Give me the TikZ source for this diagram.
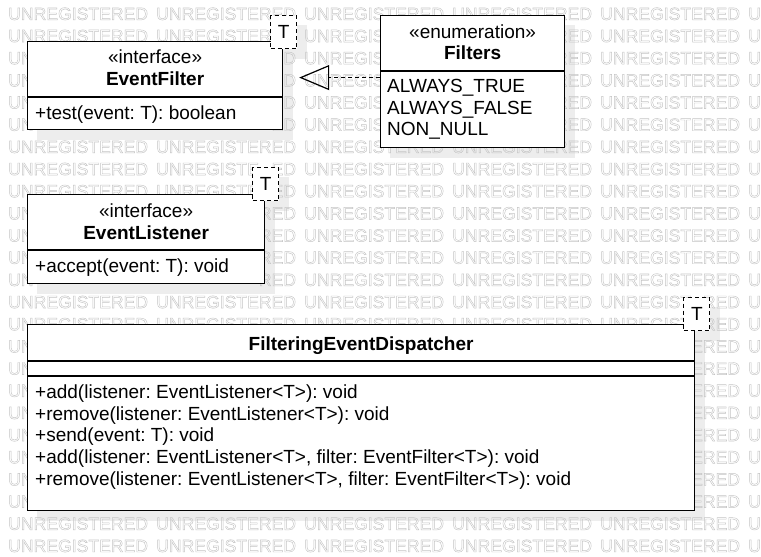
\documentclass[tikz,border=0pt]{standalone}
\usepackage{fontspec}
\setmainfont{Liberation Sans}
\usetikzlibrary{arrows.meta,calc}
\frenchspacing
\definecolor{shadowgray}{HTML}{EDEDED}
\definecolor{wmgray}{HTML}{C4C4C4}
\pgfdeclarelayer{bglayer}
\pgfdeclarelayer{shadowlayer}
\pgfdeclarelayer{wmlayer}
\pgfsetlayers{bglayer,shadowlayer,wmlayer,main}
\newcommand\outlinedtext[1]{\special{pdf:literal direct 1 Tr 0.45 w}#1\special{pdf:literal direct 0 Tr}}
\tikzset{
  umlbox/.style={draw=black, fill=white, line width=1.2pt, inner sep=0pt, anchor=north west},
  tbox/.style={draw=black, fill=white, dash pattern=on 4pt off 3pt, line width=1.2pt,
    minimum width=26pt, minimum height=33pt, inner sep=0pt, anchor=north west,
    font=\fontsize{19}{22}\selectfont},
  divider/.style={line width=1.2pt},
  txt/.style={inner sep=0pt, font=\fontsize{19}{22}\selectfont},
  wm/.style={inner sep=0pt, anchor=base west, text=wmgray, font=\fontsize{17.6}{20}\selectfont},
  shadowfill/.style={fill=shadowgray, draw=none},
  realizes/.style={dash pattern=on 4pt off 3pt, line width=1.2pt,
    -{Triangle[open, length=30pt, width=25pt, line width=1.2pt]}},
}
\begin{document}
\begin{tikzpicture}[x=1pt,y=-1pt]
\begin{pgfonlayer}{bglayer}
\fill[white] (0,0) rectangle (761,557);
\end{pgfonlayer}
\useasboundingbox (0,0) rectangle (761,557);

% watermark (only the letters that are not hidden behind a box)
\begin{pgfonlayer}{wmlayer}
\foreach \r in {0,...,24}{
  \pgfmathsetmacro\yc{13.6+22.17*\r}
  \pgfmathsetmacro\ya{\yc-6.3}
  \pgfmathsetmacro\yb{\yc+6.3}
  \foreach \c in {0,...,5}{
    \foreach \L/\o/\w [count=\k] in {U/0/12.707, N/12.707/12.707, R/25.414/12.707,
        E/38.122/11.739, G/49.861/13.693, I/63.554/4.893, S/68.447/11.739,
        T/80.186/10.754, E/90.940/11.739, R/102.679/12.707, E/115.386/11.739, D/127.125/12.707}{
      \pgfmathsetmacro\xa{8+148*\c+\o}
      \pgfmathsetmacro\xb{\xa+\w}
      \pgfmathtruncatemacro\hid{
        (\xa>26 && \xb<283 && min(\yb,129)-max(\ya,41)>7.5) ||
        (\xa>268 && \xb<296 && min(\yb,48)-max(\ya,15)>7.5) ||
        (\xa>379 && \xb<565 && min(\yb,147)-max(\ya,15)>7.5) ||
        (\xa>26 && \xb<265 && min(\yb,283)-max(\ya,194)>7.5) ||
        (\xa>251 && \xb<279 && min(\yb,200)-max(\ya,167)>7.5) ||
        (\xa>26 && \xb<695 && min(\yb,510)-max(\ya,324)>7.5) ||
        (\xa>682 && \xb<710 && min(\yb,330)-max(\ya,297)>7.5) ||
        (\xa>760)}
      \ifnum\hid=0
        \node[wm] (wm-\r-\c-\k) at (\xa,\yb) {\outlinedtext{\L}};
      \fi
    }
  }
}
\end{pgfonlayer}

% boxes
\node[umlbox, minimum width=255pt, minimum height=88pt] (evfilter) at (27,41) {};
\node[umlbox, minimum width=184pt, minimum height=132pt] (filters) at (380,15) {};
\node[umlbox, minimum width=237pt, minimum height=89pt] (evlistener) at (27,194) {};
\node[umlbox, minimum width=667pt, minimum height=186pt] (disp) at (27,324) {};

% template boxes
\node[tbox] (efT) at ($(evfilter.north east)+(-13,-26)$) {T};
\node[tbox] (elT) at ($(evlistener.north east)+(-13,-27)$) {T};
\node[tbox] (dT) at ($(disp.north east)+(-12,-27)$) {T};

% shadows
\begin{pgfonlayer}{shadowlayer}
\foreach \n in {evfilter,filters,evlistener,disp,efT,elT,dT}{
  \fill[shadowfill] ($(\n.north west)+(10,10)$) rectangle ($(\n.south east)+(10,10)$);
}
\end{pgfonlayer}

% dividers
\draw[divider] ($(evfilter.north west)+(0,56)$) -- ($(evfilter.north east)+(0,56)$);
\draw[divider] ($(filters.north west)+(0,56)$) -- ($(filters.north east)+(0,56)$);
\draw[divider] ($(evlistener.north west)+(0,56)$) -- ($(evlistener.north east)+(0,56)$);
\draw[divider] ($(disp.north west)+(0,37)$) -- ($(disp.north east)+(0,37)$);
\draw[divider] ($(disp.north west)+(0,52)$) -- ($(disp.north east)+(0,52)$);

% EventFilter texts
\node[txt, anchor=base] (ef-st) at ($(evfilter.north)+(0,22.5)$) {«interface»};
\node[txt, anchor=base] (ef-nm) at ($(evfilter.north)+(0,44.5)$) {\bfseries EventFilter};
\node[txt, anchor=base west] (ef-m1) at ($(evfilter.north west)+(8,78.5)$) {+test(event: T): boolean};

% Filters texts
\node[txt, anchor=base] (fi-st) at ($(filters.north)+(0,23)$) {«enumeration»};
\node[txt, anchor=base] (fi-nm) at ($(filters.north)+(0,44)$) {\bfseries Filters};
\node[txt, anchor=base west] (fi-l1) at ($(filters.north west)+(7,77.8)$) {ALWAYS\_TRUE};
\node[txt, anchor=base west] (fi-l2) at ($(filters.north west)+(7,99.2)$) {ALWAYS\_FALSE};
\node[txt, anchor=base west] (fi-l3) at ($(filters.north west)+(7,120.6)$) {NON\_NULL};

% EventListener texts
\node[txt, anchor=base] (el-st) at ($(evlistener.north)+(0,23)$) {«interface»};
\node[txt, anchor=base] (el-nm) at ($(evlistener.north)+(0,45)$) {\bfseries EventListener};
\node[txt, anchor=base west] (el-m1) at ($(evlistener.north west)+(8,78)$) {+accept(event: T): void};

% Dispatcher texts
\node[txt, anchor=base] (d-nm) at ($(disp.north)+(0,26.5)$) {\bfseries FilteringEventDispatcher};
\node[txt, anchor=base west] (d-m1) at ($(disp.north west)+(8,74.5)$) {+add(listener: EventListener<T>): void};
\node[txt, anchor=base west] (d-m2) at ($(disp.north west)+(8,96.2)$) {+remove(listener: EventListener<T>): void};
\node[txt, anchor=base west] (d-m3) at ($(disp.north west)+(8,117.9)$) {+send(event: T): void};
\node[txt, anchor=base west] (d-m4) at ($(disp.north west)+(8,139.6)$) {+add(listener: EventListener<T>, filter: EventFilter<T>): void};
\node[txt, anchor=base west] (d-m5) at ($(disp.north west)+(8,161.3)$) {+remove(listener: EventListener<T>, filter: EventFilter<T>): void};

% realization arrow
\draw[realizes, shorten >=16pt] ([yshift=4pt]filters.west) -- ([yshift=4pt]filters.west -| evfilter.east);
\end{tikzpicture}
\end{document}
